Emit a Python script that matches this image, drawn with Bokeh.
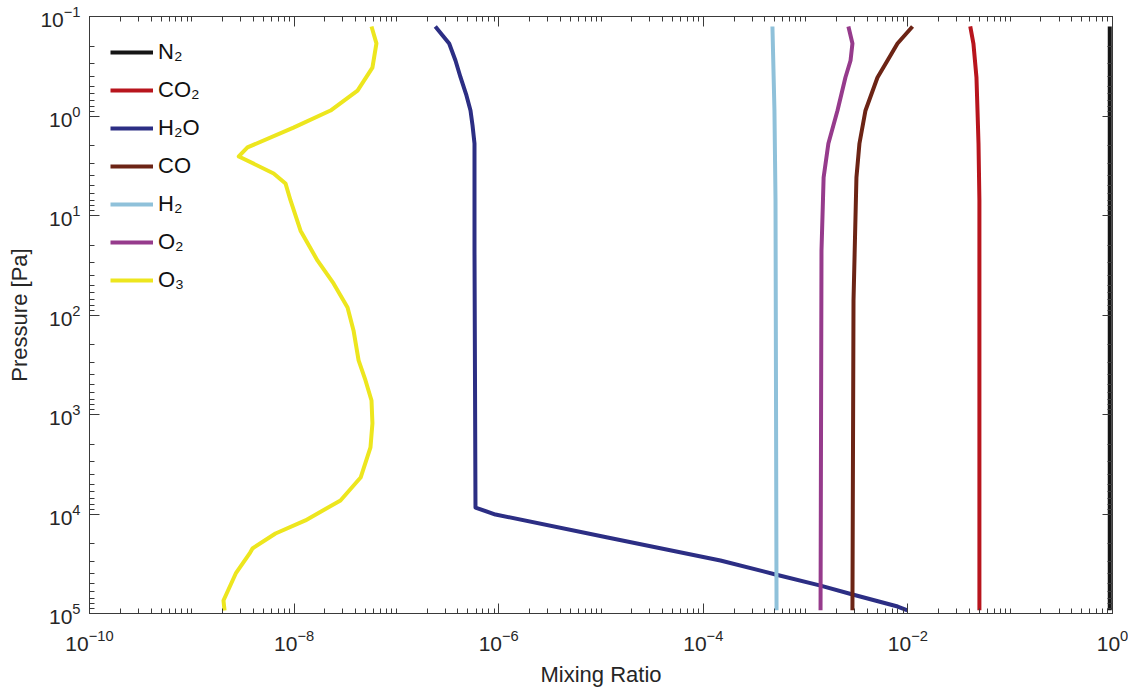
from bokeh.plotting import figure
from bokeh.models import (FixedTicker, LogTicker, LogAxis, LogTickFormatter, Range1d,
                          Legend, LegendItem, CustomJSTickFormatter)
from bokeh.embed import file_html
from bokeh.resources import INLINE

# ---------------- data ----------------
species = ["N₂", "CO₂", "H₂O", "CO", "H₂", "O₂", "O₃"]
colors = ["#151515", "#b8151d", "#2c2e84", "#6c2415", "#8fc1da", "#963b8c", "#ede61e"]

n2_p = [0.126, 93000]
n2_x = [0.94, 0.94]

co2_p = [0.126, 0.187, 0.41, 0.88, 1.89, 7.06, 93000]
co2_x = [0.0407, 0.0437, 0.0468, 0.0479, 0.049, 0.050, 0.050]

h2o_p = [0.126, 0.155, 0.187, 0.277, 0.41, 0.622, 0.88, 1.245, 1.89, 22.5,
         8610, 10120, 17200, 29300, 40500, 52400, 64400, 85100, 93000]
h2o_x = [2.4e-7, 2.83e-7, 3.28e-7, 3.78e-7, 4.24e-7, 4.84e-7, 5.3e-7, 5.55e-7,
         5.8e-7, 5.8e-7, 5.93e-7, 9.3e-7, 1.16e-5, 1.47e-4, 5.08e-4, 1.40e-3,
         2.88e-3, 7.94e-3, 9.9e-3]

co_p = [0.126, 0.187, 0.277, 0.41, 0.88, 1.89, 4.15, 71.5, 93000]
co_x = [0.0111, 7.91e-3, 6.32e-3, 5.04e-3, 3.85e-3, 3.36e-3, 3.14e-3, 2.94e-3, 2.87e-3]

h2_p = [0.126, 0.88, 7.06, 93000]
h2_x = [4.74e-4, 4.96e-4, 5.08e-4, 5.2e-4]

o2_p = [0.126, 0.187, 0.277, 0.41, 0.88, 1.89, 4.15, 22.5, 93000]
o2_x = [2.62e-3, 2.87e-3, 2.75e-3, 2.45e-3, 2.05e-3, 1.67e-3, 1.50e-3, 1.43e-3, 1.40e-3]

o3_p = [0.126, 0.186, 0.326, 0.555, 0.881, 1.31, 2.07, 2.55, 3.78, 4.76, 7.06,
        14.2, 28.3, 48.2, 84.1, 143, 286, 455, 723, 1230, 2140, 4300, 7310,
        11600, 15700, 22200, 24400, 39600, 74000, 93300]
o3_x = [5.71e-8, 6.38e-8, 5.83e-8, 4.17e-8, 2.27e-8, 9.86e-9, 3.50e-9, 2.88e-9,
        6.31e-9, 8.24e-9, 9.23e-9, 1.156e-8, 1.69e-8, 2.43e-8, 3.33e-8, 3.81e-8,
        4.27e-8, 4.99e-8, 5.71e-8, 5.83e-8, 5.58e-8, 4.47e-8, 2.84e-8, 1.29e-8,
        6.58e-9, 3.92e-9, 3.72e-9, 2.69e-9, 2.04e-9, 2.09e-9]

series = [(n2_x, n2_p), (co2_x, co2_p), (h2o_x, h2o_p), (co_x, co_p),
          (h2_x, h2_p), (o2_x, o2_p), (o3_x, o3_p)]

x_major = [10.0 ** e for e in range(-10, 1, 2)]

# ---------------- figure ----------------
FONT = "Liberation Sans"
TXT = "#262626"
AX = "#3a3a3a"

p = figure(x_axis_type="log", y_axis_type="log",
           x_range=Range1d(1e-10, 1), y_range=Range1d(1e5, 0.1),
           frame_width=1023, frame_height=597,
           min_border_left=89, min_border_right=16,
           min_border_top=16, min_border_bottom=67,
           output_backend="svg", toolbar_location=None)
p.outline_line_color = None
p.xgrid.visible = False
p.ygrid.visible = False
p.background_fill_color = "white"
p.border_fill_color = "white"

x_minor = [m * 10.0 ** e for e in range(-10, 0) for m in range(1, 10)]
xt = FixedTicker(ticks=x_major, minor_ticks=x_minor)
yt = LogTicker(num_minor_ticks=10)


def style(ax, labels=True):
    ax.axis_line_color = AX
    ax.axis_line_width = 1
    ax.major_tick_line_color = AX
    ax.minor_tick_line_color = AX
    ax.minor_tick_line_width = 1
    ax.major_tick_in = 10
    ax.major_tick_out = 0
    ax.minor_tick_in = 5
    ax.minor_tick_out = 0
    if labels:
        ax.major_label_text_font = FONT
        ax.major_label_text_font_size = "21px"
        ax.major_label_text_color = TXT
        ax.axis_label_text_font = FONT
        ax.axis_label_text_font_size = "22px"
        ax.axis_label_text_font_style = "normal"
        ax.axis_label_text_color = TXT
    else:
        ax.major_label_text_font_size = "0px"
        ax.major_label_standoff = 0
        ax.formatter = CustomJSTickFormatter(code="return ''")


xa = p.xaxis[0]
xa.ticker = xt
xa.formatter = LogTickFormatter()
xa.axis_label = "Mixing Ratio"
xa.major_label_standoff = 16
xa.axis_label_standoff = 8
style(xa)

ya = p.yaxis[0]
ya.ticker = yt
ya.formatter = LogTickFormatter()
ya.axis_label = "Pressure [Pa]"
ya.major_label_standoff = 9
ya.axis_label_standoff = 5
style(ya)

top = LogAxis(ticker=xt)
style(top, labels=False)
p.add_layout(top, "above")
right = LogAxis(ticker=yt)
style(right, labels=False)
p.add_layout(right, "right")

items = []
for name, col, (xs, ps) in zip(species, colors, series):
    r = p.line(xs, ps, line_color=col, line_width=4, line_join="round")
    items.append(LegendItem(label=name, renderers=[r]))

legend = Legend(items=items, location="top_left", margin=21, padding=0,
                spacing=8, label_height=30, glyph_height=30, glyph_width=43,
                label_standoff=5, label_text_font=FONT,
                label_text_font_size="22px", label_text_color="#111111",
                background_fill_alpha=0, border_line_color=None)
p.add_layout(legend, "center")

open("out.html", "w").write(file_html(p, INLINE))
